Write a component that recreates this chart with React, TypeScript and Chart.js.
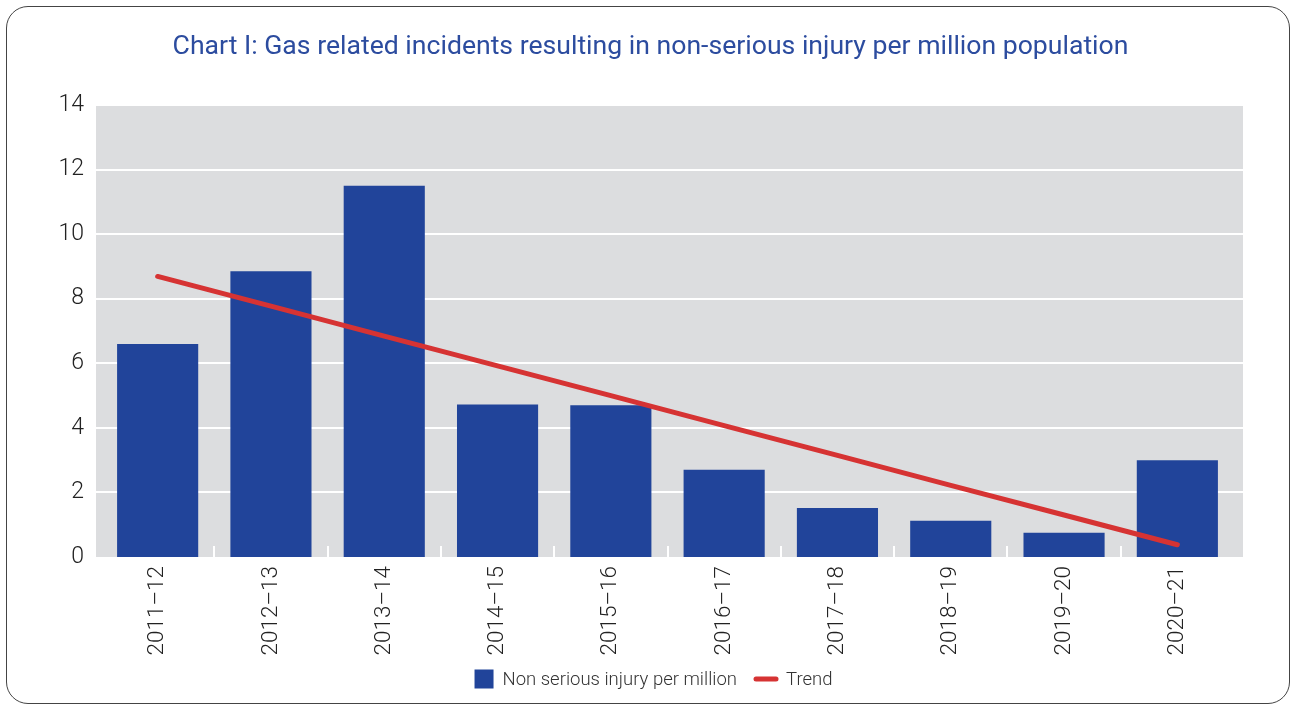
import React, { useEffect, useRef } from "react";
import { Chart, registerables } from "chart.js";

Chart.register(...registerables);

const categories = ["2011–12", "2012–13", "2013–14", "2014–15", "2015–16", "2016–17", "2017–18", "2018–19", "2019–20", "2020–21"];
const injuryPerMillion = [6.6, 8.85, 11.5, 4.72, 4.7, 2.7, 1.52, 1.12, 0.75, 3.0];
const trendValues = [8.69, 7.77, 6.84, 5.92, 5.0, 4.07, 3.15, 2.22, 1.3, 0.38];
const yTicks = [0, 2, 4, 6, 8, 10, 12, 14];
const titleText = "Chart I: Gas related incidents resulting in non-serious injury per million population";
const barLabel = "Non serious injury per million";
const trendLabel = "Trend";

const BAR_COLOR = "#21449a";
const TREND_COLOR = "#d63333";
const PLOT_BG = "#dcdddf";
const FONT = "Roboto";

export default function App() {
  const ref = useRef<HTMLCanvasElement | null>(null);

  useEffect(() => {
    document.body.style.margin = "0";
    const canvas = ref.current!;
    const bgPlugin = {
      id: "plotBg",
      beforeDraw(chart: any) {
        const { ctx, chartArea } = chart;
        const yScale = chart.scales.y;
        const left = chartArea.left - 5;
        const right = chartArea.right + 9;
        ctx.save();
        ctx.fillStyle = PLOT_BG;
        ctx.fillRect(left, chartArea.top, right - left, chartArea.bottom - chartArea.top);
        ctx.strokeStyle = "#ffffff";
        ctx.lineWidth = 2;
        for (const v of yTicks) {
          if (v === 0) continue;
          const y = Math.round(yScale.getPixelForValue(v));
          ctx.beginPath();
          ctx.moveTo(left, y);
          ctx.lineTo(right, y);
          ctx.stroke();
        }
        ctx.restore();
      },
    };
    const textPlugin = {
      id: "texts",
      afterDraw(chart: any) {
        const { ctx } = chart;
        ctx.save();
        // title
        ctx.font = `400 26.6px ${FONT}`;
        ctx.fillStyle = "#2c4c9f";
        ctx.textAlign = "center";
        ctx.textBaseline = "middle";
        ctx.fillText(titleText, 650.5, 47);
        // legend
        ctx.font = `300 18.5px ${FONT}`;
        const w1 = ctx.measureText(barLabel).width;
        const w2 = ctx.measureText(trendLabel).width;
        const box = 19;
        const lineW = 24;
        const total = box + 9 + w1 + 17 + lineW + 8 + w2;
        let x = 653.5 - total / 2;
        const cy = 679;
        ctx.fillStyle = BAR_COLOR;
        ctx.fillRect(x, cy - box / 2, box, box);
        x += box + 9;
        ctx.fillStyle = "#333";
        ctx.textAlign = "left";
        ctx.fillText(barLabel, x, cy + 1);
        x += w1 + 17;
        ctx.strokeStyle = TREND_COLOR;
        ctx.lineWidth = 5;
        ctx.lineCap = "round";
        ctx.beginPath();
        ctx.moveTo(x + 2, cy);
        ctx.lineTo(x + lineW - 2, cy);
        ctx.stroke();
        x += lineW + 8;
        ctx.fillText(trendLabel, x, cy + 1);
        ctx.restore();
      },
    };

    const chart = new Chart(canvas, {
      type: "bar",
      data: {
        labels: categories,
        datasets: [
          {
            type: "line",
            label: trendLabel,
            data: trendValues,
            borderColor: TREND_COLOR,
            backgroundColor: TREND_COLOR,
            borderWidth: 5,
            borderCapStyle: "round",
            pointRadius: 0,
            tension: 0,
            order: 0,
          } as any,
          {
            type: "bar",
            label: barLabel,
            data: injuryPerMillion,
            backgroundColor: BAR_COLOR,
            barPercentage: 0.716,
            categoryPercentage: 1,
            order: 1,
          },
        ],
      },
      options: {
        responsive: false,
        animation: false,
        layout: { padding: { top: 105, left: 40, right: 57, bottom: 0 } },
        plugins: {
          legend: { display: false },
          title: { display: false },
          tooltip: { enabled: false },
        },
        scales: {
          x: {
            offset: true,
            border: { display: false },
            grid: {
              offset: true,
              display: true,
              drawOnChartArea: false,
              drawTicks: true,
              tickLength: -11,
              color: (c: any) => (c.type === "tick" && c.index > 0 ? "#ffffff" : "rgba(0,0,0,0)"),
              lineWidth: 2,
            },
            ticks: {
              minRotation: 90,
              maxRotation: 90,
              autoSkip: false,
              padding: 20,
              color: "#222",
              font: { family: FONT, size: 22.5, weight: "300" as any },
            },
            afterFit(scale: any) {
              scale.height = 148;
            },
          },
          y: {
            min: 0,
            max: 14,
            border: { display: false },
            grid: { display: false, drawTicks: false },
            afterBuildTicks(scale: any) {
              scale.ticks = yTicks.map((v) => ({ value: v }));
            },
            ticks: {
              padding: 17,
              color: "#222",
              font: { family: FONT, size: 23, weight: "300" as any },
            },
            afterFit(scale: any) {
              scale.width = 61;
            },
          },
        },
      },
      plugins: [bgPlugin, textPlugin],
    });
    return () => chart.destroy();
  }, []);

  return (
    <div style={{ position: "relative", width: 1291, height: 705, background: "#fff", overflow: "hidden" }}>
      <canvas ref={ref} width={1291} height={705} style={{ position: "absolute", left: 0, top: 0 }} />
      <div
        style={{
          position: "absolute",
          left: 6,
          top: 6,
          width: 1284,
          height: 698,
          boxSizing: "border-box",
          border: "1.5px solid #444",
          borderRadius: 22,
          pointerEvents: "none",
        }}
      />
    </div>
  );
}
